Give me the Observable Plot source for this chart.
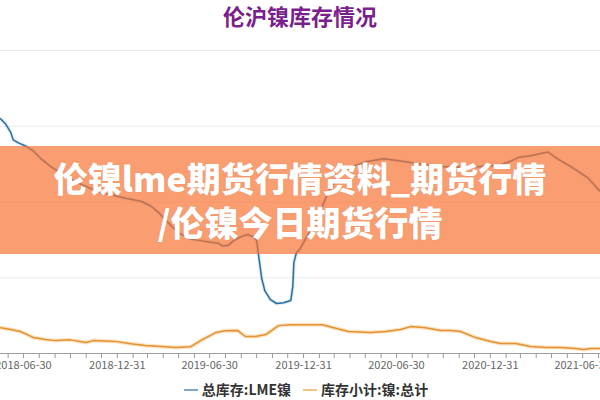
<!DOCTYPE html>
<html><head><meta charset="utf-8">
<script src="https://cdn.jsdelivr.net/npm/d3@7"></script>
<script src="https://cdn.jsdelivr.net/npm/@observablehq/plot@0.6"></script>
<style>
body{margin:0;background:#fff;font-family:"Noto Sans CJK SC","Noto Sans",sans-serif;}
#wrap{position:relative;width:600px;height:400px;overflow:hidden;background:#fff;}
#title{position:absolute;top:0;left:0;width:600px;text-align:center;font-size:22px;font-weight:700;color:#7a1f8c;line-height:30px;}
#chart{position:absolute;top:30px;left:0;width:600px;height:345px;overflow:hidden;}
#banner{position:absolute;left:0;top:146px;width:600px;height:108px;background:rgba(248,116,51,0.7);color:#fff;text-align:center;font-weight:900;font-size:34px;line-height:44px;padding-top:10px;box-sizing:border-box;white-space:nowrap;text-shadow:0 0 1px rgba(120,50,20,0.25);}
#legend{position:absolute;left:0;top:379px;width:600px;text-align:center;font-size:14px;font-weight:700;color:#333;line-height:20px;}
.sw{display:inline-block;width:14px;height:2px;vertical-align:middle;margin:0 4px 0 12px;position:relative;top:-1px;}
</style>
</head><body>
<div id="wrap">
  <div id="title"></div>
  <div id="chart"></div>
  <div id="banner"></div>
  <div id="legend"></div>
</div>
<script>
const titleText = "伦沪镍库存情况";
const bannerLines = ["伦镍lme期货行情资料_期货行情", "/伦镍今日期货行情"];
const seriesNames = ["总库存:LME镍", "库存小计:镍:总计"];
const seriesColors = ["#2b6f9d", "#e3922f"];
const legendColors = ["#7fa9c9", "#f2c27f"];
const tickLabels = ["2018-06-30","2018-12-31","2019-06-30","2019-12-31","2020-06-30","2020-12-31","2021-06-30"];
const yTicks = [0, 100000, 200000, 300000, 400000];

const lmeDates = ["2018-05-16","2018-05-26","2018-06-05","2018-06-10","2018-06-20","2018-07-04","2018-07-20","2018-08-02","2018-08-22","2018-09-11","2018-09-26","2018-10-16","2018-11-08","2018-11-28","2018-12-22","2019-01-16","2019-02-15","2019-03-06","2019-03-22","2019-04-05","2019-04-18","2019-05-04","2019-05-24","2019-06-12","2019-07-02","2019-07-16","2019-07-25","2019-08-06","2019-08-16","2019-08-30","2019-09-12","2019-09-24","2019-09-30","2019-10-04","2019-10-10","2019-10-16","2019-10-27","2019-11-08","2019-11-22","2019-12-06","2019-12-10","2019-12-12","2019-12-17","2019-12-25","2020-01-06","2020-01-18","2020-01-30","2020-02-14","2020-03-07","2020-04-01","2020-05-01","2020-06-05","2020-07-08","2020-08-17","2020-09-25","2020-11-03","2020-12-12","2021-01-20","2021-02-09","2021-02-25","2021-03-20","2021-04-09","2021-04-23","2021-05-12","2021-06-01","2021-06-20","2021-07-10","2021-07-30","2021-08-04"];
const lmeValues = [310000,303000,292000,282000,278000,274000,267000,258000,247000,238000,232000,225000,218000,213000,209000,205000,201000,195000,186000,176000,167000,158000,151000,149000,147000,146000,142000,143000,149000,154000,157000,154000,149000,129000,99000,83000,71000,66000,67000,70000,89000,120000,133000,139000,154000,167000,182000,208000,234000,246000,253000,257000,254000,250000,247000,246000,247000,249000,254000,259000,261000,264000,266000,257000,249000,241000,232000,217000,214000];

const shfeDates = ["2018-05-16","2018-06-05","2018-06-24","2018-07-20","2018-08-12","2018-09-01","2018-09-30","2018-10-30","2018-11-14","2018-12-27","2019-01-26","2019-02-24","2019-03-26","2019-04-24","2019-05-24","2019-06-12","2019-07-12","2019-07-31","2019-08-24","2019-09-08","2019-09-28","2019-10-18","2019-11-12","2019-12-06","2019-12-25","2020-02-06","2020-02-28","2020-03-28","2020-05-10","2020-06-09","2020-07-08","2020-07-28","2020-08-26","2020-09-25","2020-10-14","2020-11-03","2020-12-02","2021-01-01","2021-01-20","2021-02-19","2021-03-20","2021-04-19","2021-05-18","2021-06-16","2021-07-02","2021-07-16","2021-08-04"];
const shfeValues = [34000,31600,29000,21000,18400,17000,18000,14500,17000,16000,13000,10500,9200,8000,9000,17000,27600,30000,30300,22400,22400,25000,36800,38000,38000,38000,34000,29000,27600,29000,31600,35500,34000,30300,30300,29000,21000,15800,13200,13200,9200,8000,8000,6600,5300,6600,6600];

document.getElementById("title").textContent = titleText;
document.getElementById("banner").innerHTML = bannerLines.map(t => `<div>${t}</div>`).join("");
document.getElementById("legend").innerHTML = seriesNames.map((n,i) =>
  `<span class="sw" style="background:${legendColors[i]}"></span><span>${n}</span>`).join("");

const lme = lmeDates.map((d,i) => ({date: new Date(d), value: lmeValues[i]}));
const shfe = shfeDates.map((d,i) => ({date: new Date(d), value: shfeValues[i]}));

const fmt = d3.utcFormat("%Y-%m-%d");
const labelSet = new Set(tickLabels);
const monthEnds = d3.utcMonth.range(new Date("2018-05-01"), new Date("2021-08-01"))
  .map(d => d3.utcDay.offset(d3.utcMonth.offset(d, 1), -1));

const chart = Plot.plot({
  width: 600, height: 345,
  marginLeft: 0, marginRight: 0, marginTop: 20, marginBottom: 22,
  style: {fontFamily: '"Noto Sans CJK SC","Noto Sans",sans-serif', background: "transparent"},
  x: {type: "utc", domain: [new Date("2018-05-16"), new Date("2021-08-04")]},
  y: {domain: [0, 400000], axis: null},
  marks: [
    Plot.ruleY(yTicks.slice(1), {stroke: "#ebebeb", strokeWidth: 1.2}),
    Plot.lineY(shfe, {x: "date", y: "value", stroke: "#f3c07e", strokeWidth: 4, strokeOpacity: 0.45}),
    Plot.lineY(shfe, {x: "date", y: "value", stroke: seriesColors[1], strokeWidth: 1.5}),
    Plot.lineY(lme, {x: "date", y: "value", stroke: "#9cc0da", strokeWidth: 3.5, strokeOpacity: 0.35}),
    Plot.lineY(lme, {x: "date", y: "value", stroke: seriesColors[0], strokeWidth: 1.5}),
    Plot.ruleY([0], {stroke: "#a0a0a0", strokeWidth: 1.2}),
    Plot.axisX(monthEnds, {tickSize: 5, tickPadding: 3, stroke: "#999", fill: "#666", fontSize: 11,
      tickFormat: d => labelSet.has(fmt(d)) ? fmt(d) : ""})
  ]
});
document.getElementById("chart").appendChild(chart);
</script>
</body></html>
